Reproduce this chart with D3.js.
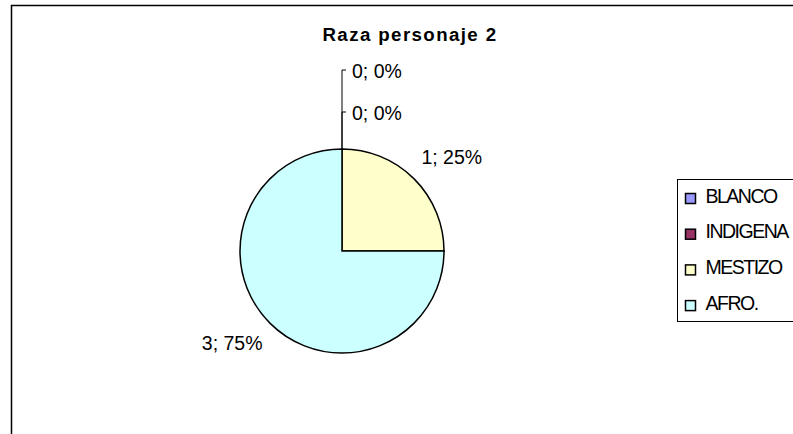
<!DOCTYPE html>
<html>
<head>
<meta charset="utf-8">
<script src="https://cdnjs.cloudflare.com/ajax/libs/d3/7.8.5/d3.min.js"></script>
<style>
body { margin: 0; background: #fff; }
svg text { font-family: 'Liberation Sans', Arial, sans-serif; }
</style>
</head>
<body>
<div id="chart"></div>
<script>
// datos del grafico
var categorias = ['BLANCO', 'INDIGENA', 'MESTIZO', 'AFRO.'];
var valores = [0, 0, 1, 3];
var colores = ['#9999FF', '#993366', '#FFFFCC', '#CCFFFF'];
var titulo = 'Raza personaje 2';

var width = 793, height = 434;
var cx = 342, cy = 251, radius = 102;

var svg = d3.select('#chart')
	.append('svg')
	.attr('width', width)
	.attr('height', height);

// borde del area del grafico
svg.append('path')
	.attr('d', 'M11.5,' + height + 'V5.5H' + width)
	.attr('fill', 'none')
	.attr('stroke', '#000')
	.attr('stroke-width', 1.5);

svg.append('text')
	.attr('x', 410)
	.attr('y', 41)
	.attr('text-anchor', 'middle')
	.attr('font-size', 18.7)
	.attr('font-weight', 'bold')
	.attr('letter-spacing', 1.4)
	.text(titulo);

var total = d3.sum(valores);
var datos = categorias.map(function(c, i) {
	return { name: c, value: valores[i], color: colores[i] };
});

var pie = d3.pie()
	.sort(null)
	.value(function(d) { return d.value; });

var arc = d3.arc().innerRadius(0).outerRadius(radius);

var g = svg.append('g')
	.attr('transform', 'translate(' + cx + ',' + cy + ')');

var arcs = pie(datos);

g.selectAll('path.slice')
	.data(arcs)
	.enter()
	.append('path')
	.attr('class', 'slice')
	.attr('d', arc)
	.attr('fill', function(d) { return d.data.color; })
	.attr('stroke', '#000')
	.attr('stroke-width', 1.5);

// etiquetas
function etiqueta(d) {
	return d.value + '; ' + Math.round(d.value / total * 100) + '%';
}

var ceros = 0;
arcs.forEach(function(d) {
	var txt = etiqueta(d.data);
	if (d.data.value === 0) {
		// las porciones vacias se apilan hacia arriba con linea guia
		var ly = -radius - 79 + ceros * 42;
		ceros++;
		g.append('path')
			.attr('d', 'M0,' + (-radius) + 'V' + ly + 'H4')
			.attr('fill', 'none')
			.attr('stroke', '#000')
			.attr('stroke-width', 1);
		g.append('text')
			.attr('x', 10)
			.attr('y', ly + 7.5)
			.attr('font-size', 19.5)
			.text(txt);
	} else {
		var mid = (d.startAngle + d.endAngle) / 2;
		var lr = radius + 16;
		var x = Math.sin(mid) * lr;
		var y = -Math.cos(mid) * lr;
		var right = x > 0;
		g.append('text')
			.attr('x', right ? x - 4 : x + 4)
			.attr('y', right ? y - 4 : y + 16)
			.attr('text-anchor', right ? 'start' : 'end')
			.attr('font-size', 19.5)
			.text(txt);
	}
});

// leyenda
var leg = svg.append('g');
leg.append('rect')
	.attr('x', 677.5)
	.attr('y', 179.5)
	.attr('width', 140)
	.attr('height', 142)
	.attr('fill', '#fff')
	.attr('stroke', '#000')
	.attr('stroke-width', 1);

var items = leg.selectAll('g.item')
	.data(datos)
	.enter()
	.append('g')
	.attr('class', 'item')
	.attr('transform', function(d, i) {
		return 'translate(685.5,' + (193.5 + i * 35.7) + ')';
	});

items.append('rect')
	.attr('width', 10)
	.attr('height', 10)
	.attr('fill', function(d) { return d.color; })
	.attr('stroke', '#000')
	.attr('stroke-width', 1.5);

items.append('text')
	.attr('x', 20)
	.attr('y', 9)
	.attr('font-size', 19.5)
	.attr('letter-spacing', -1.5)
	.text(function(d) { return d.name; });
</script>
</body>
</html>
